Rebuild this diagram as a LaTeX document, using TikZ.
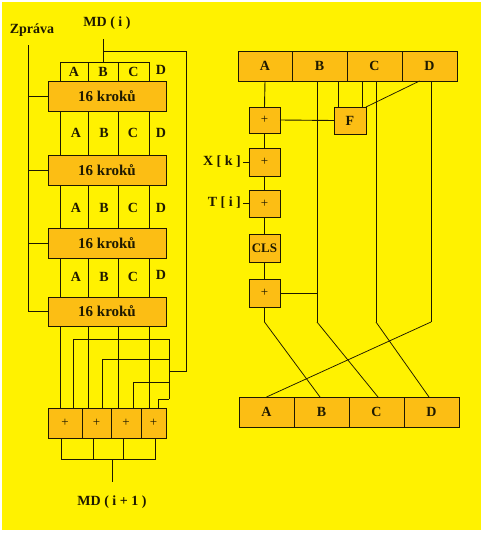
\documentclass[tikz,border=0pt]{standalone}
\usepackage{fontspec}
\setmainfont{Liberation Serif}
\definecolor{bg}{RGB}{255,242,0}
\definecolor{boxc}{RGB}{252,190,20}
\definecolor{ink}{RGB}{30,25,0}
\tikzset{
  wire/.style={draw=ink, line width=0.9pt},
  thinwire/.style={draw=ink, line width=0.75pt},
  blk/.style={draw=ink, fill=boxc, line width=0.9pt, inner sep=0pt, outer sep=0pt,
    text=ink, font=\bfseries\fontsize{14}{14}\selectfont},
  kbox/.style={blk, font=\bfseries\fontsize{15}{15}\selectfont},
  cellbox/.style={draw=ink, fill=bg, line width=0.9pt, inner sep=0pt, outer sep=0pt,
    text=ink, font=\bfseries\fontsize{14}{14}\selectfont},
  plusbox/.style={blk, font=\fontsize{13}{13}\selectfont},
  lbl/.style={text=ink, inner sep=0pt, font=\bfseries\fontsize{14}{14}\selectfont}
}
\begin{document}
\begin{tikzpicture}[x=1pt,y=-1pt]
\useasboundingbox (0,0) rectangle (483,533);
\fill[white] (0,0) rectangle (483,533);
\fill[bg] (2,2) rectangle (481,530);

% ---------- left part ----------
\node[lbl] (zp) at (32,30) {Zpráva};
\node[lbl] (mdi) at (107,23) {MD ( i )};

\node[cellbox, minimum width=28pt, minimum height=19pt] (tA) at (74,71.5) {A};
\node[cellbox, minimum width=30pt, minimum height=19pt] (tB) at (103,71.5) {B};
\node[cellbox, minimum width=31pt, minimum height=19pt] (tC) at (133.5,71.5) {C};
\node[lbl] (tD) at (161,70) {D};

\node[kbox, minimum width=118pt, minimum height=30pt] (k1) at (107,96) {16 kroků};
\node[kbox, minimum width=118pt, minimum height=30pt] (k2) at (107,170) {16 kroků};
\node[kbox, minimum width=118pt, minimum height=30pt] (k3) at (107,243) {16 kroků};
\node[kbox, minimum width=118pt, minimum height=29pt] (k4) at (107,311.5) {16 kroků};

% labels between blocks
\foreach \yy/\n in {133/b, 208/c, 277/d}{
  \node[lbl] (A\n) at (76,\yy) {A};
  \node[lbl] (B\n) at (104,\yy) {B};
  \node[lbl] (C\n) at (133,\yy) {C};
}
\node[lbl] (Db) at (161,133) {D};
\node[lbl] (Dc) at (161,208) {D};
\node[lbl] (Dd) at (161,275) {D};

% adders
\node[plusbox, minimum width=34pt, minimum height=30pt] (a1) at (65,423) {+};
\node[plusbox, minimum width=29pt, minimum height=30pt] (a2) at (96.5,423) {+};
\node[plusbox, minimum width=30pt, minimum height=30pt] (a3) at (126,423) {+};
\node[plusbox, minimum width=25pt, minimum height=30pt] (a4) at (153.5,423) {+};

\node[lbl] (mdo) at (112,502) {MD ( i + 1 )};

% Zprava line
\coordinate (z0) at (28,45);
\draw[wire] (z0) |- (k4.west);
\draw[wire] (z0 |- k1.west) -- (k1.west);
\draw[wire] (z0 |- k2.west) -- (k2.west);
\draw[wire] (z0 |- k3.west) -- (k3.west);

% MD(i) line and feedback
\coordinate (mtop) at (103,39);
\coordinate (mbr) at (103,51);
\coordinate (fbc) at (186,371);
\coordinate (fbj) at (169,371);
\draw[wire] (mtop) -- (tB.north);
\draw[wire] (mbr) -| (fbc) -- (fbj);
\coordinate (bus1) at (169,339);
\coordinate (bus2) at (169,359);
\coordinate (bus3) at (169,382);
\coordinate (bus4) at (169,399);
\draw[wire] (bus1) -- (bus4);
\draw[wire] (bus1) -| ([xshift=-9pt]a1.north east);
\draw[wire] (bus2) -| ([xshift=-9pt]a2.north east);
\draw[wire] (bus3) -| ([xshift=-8pt]a3.north east);
\draw[wire] (bus4) -| ([xshift=-8pt]a4.north east);

% vertical lines between blocks
\foreach \u/\l in {k1/k2, k2/k3, k3/k4, k4/a1}{
  \draw[wire] (\u.south -| tA.south west) -- (\l.north -| tA.south west);
  \draw[wire] (\u.south -| tB.south west) -- (\l.north -| tB.south west);
  \draw[wire] (\u.south -| tC.south west) -- (\l.north -| tC.south west);
  \draw[wire] (\u.south -| tC.south east) -- (\l.north -| tC.south east);
}

% collector
\coordinate (s1) at (61,459);
\coordinate (s2) at (93,459);
\coordinate (s3) at (123,459);
\coordinate (s4) at (155,459);
\coordinate (sm) at (112,459);
\coordinate (se) at (112,482);
\draw[wire] (a1.south -| s1) -- (s1) -- (s4) -- (a4.south -| s4);
\draw[wire] (a2.south -| s2) -- (s2);
\draw[wire] (a3.south -| s3) -- (s3);
\draw[wire] (sm) -- (se);

% ---------- right part ----------
\node[blk, minimum width=54pt, minimum height=30pt] (rA) at (265,66) {A};
\node[blk, minimum width=55pt, minimum height=30pt] (rB) at (319.5,66) {B};
\node[blk, minimum width=55pt, minimum height=30pt] (rC) at (374.5,66) {C};
\node[blk, minimum width=55pt, minimum height=30pt] (rD) at (429.5,66) {D};

\node[plusbox, minimum width=31pt, minimum height=26pt] (p1) at (264.5,120) {+};
\node[blk, minimum width=32pt, minimum height=27pt] (F) at (350,120.5) {F};
\node[plusbox, minimum width=31pt, minimum height=28pt] (p2) at (264.5,162) {+};
\node[plusbox, minimum width=31pt, minimum height=27pt] (p3) at (264.5,203.5) {+};
\node[blk, minimum width=31pt, minimum height=28pt, font=\bfseries\fontsize{13}{13}\selectfont] (cls) at (264.5,248) {CLS};
\node[plusbox, minimum width=31pt, minimum height=28pt] (p4) at (264.5,293) {+};

\node[blk, minimum width=55pt, minimum height=30pt] (bA) at (266.5,412) {A};
\node[blk, minimum width=55pt, minimum height=30pt] (bB) at (321.5,412) {B};
\node[blk, minimum width=55pt, minimum height=30pt] (bC) at (376.5,412) {C};
\node[blk, minimum width=55pt, minimum height=30pt] (bD) at (431.5,412) {D};

\node[lbl, anchor=east, inner sep=2pt] (xk) at (243,162) {X [ k ]};
\node[lbl, anchor=east, inner sep=2pt] (ti) at (243,203) {T [ i ]};
\draw[wire] (xk.east) -- (xk.east -| p2.west);
\draw[wire] (ti.east) -- (ti.east -| p3.west);

% A chain
\draw[wire] (rA.south) -- (p1.north);
\draw[wire] (p1.south) -- (p2.north);
\draw[wire] (p2.south) -- (p3.north);
\draw[wire] (p3.south) -- (cls.north);
\draw[wire] (cls.south) -- (p4.north);
\draw[wire] (p1.east) -- (F.west);

\coordinate (jA) at (264.5,322);
\coordinate (jB) at (317,322);
\coordinate (jC) at (376,322);
\coordinate (jD) at (431,322);
\draw[wire] (rB.south -| jB) -- (jB);
\draw[wire] (rC.south -| jC) -- (jC);
\draw[wire] (rD.south -| jD) -- (jD);
\draw[wire] (p4.south) -- (jA);
\draw[wire] (p4.east) -- (p4.east -| jB);

% F inputs
\draw[wire] ([xshift=4pt]F.north west) -- ([xshift=4pt]F.north west |- rB.south);
\draw[wire] ([xshift=-4pt]F.north east) -- ([xshift=-4pt]F.north east |- rC.south);
\draw[thinwire] ([xshift=-10pt]rD.south) -- (F.north east);

% rotation diagonals
\draw[thinwire] (jA) -- ([xshift=-1.5pt]bB.north);
\draw[thinwire] (jB) -- ([xshift=1.5pt]bC.north);
\draw[thinwire] (jC) -- ([xshift=-2.5pt]bD.north);
\draw[thinwire] (jD) -- (bA.north);
\end{tikzpicture}
\end{document}
